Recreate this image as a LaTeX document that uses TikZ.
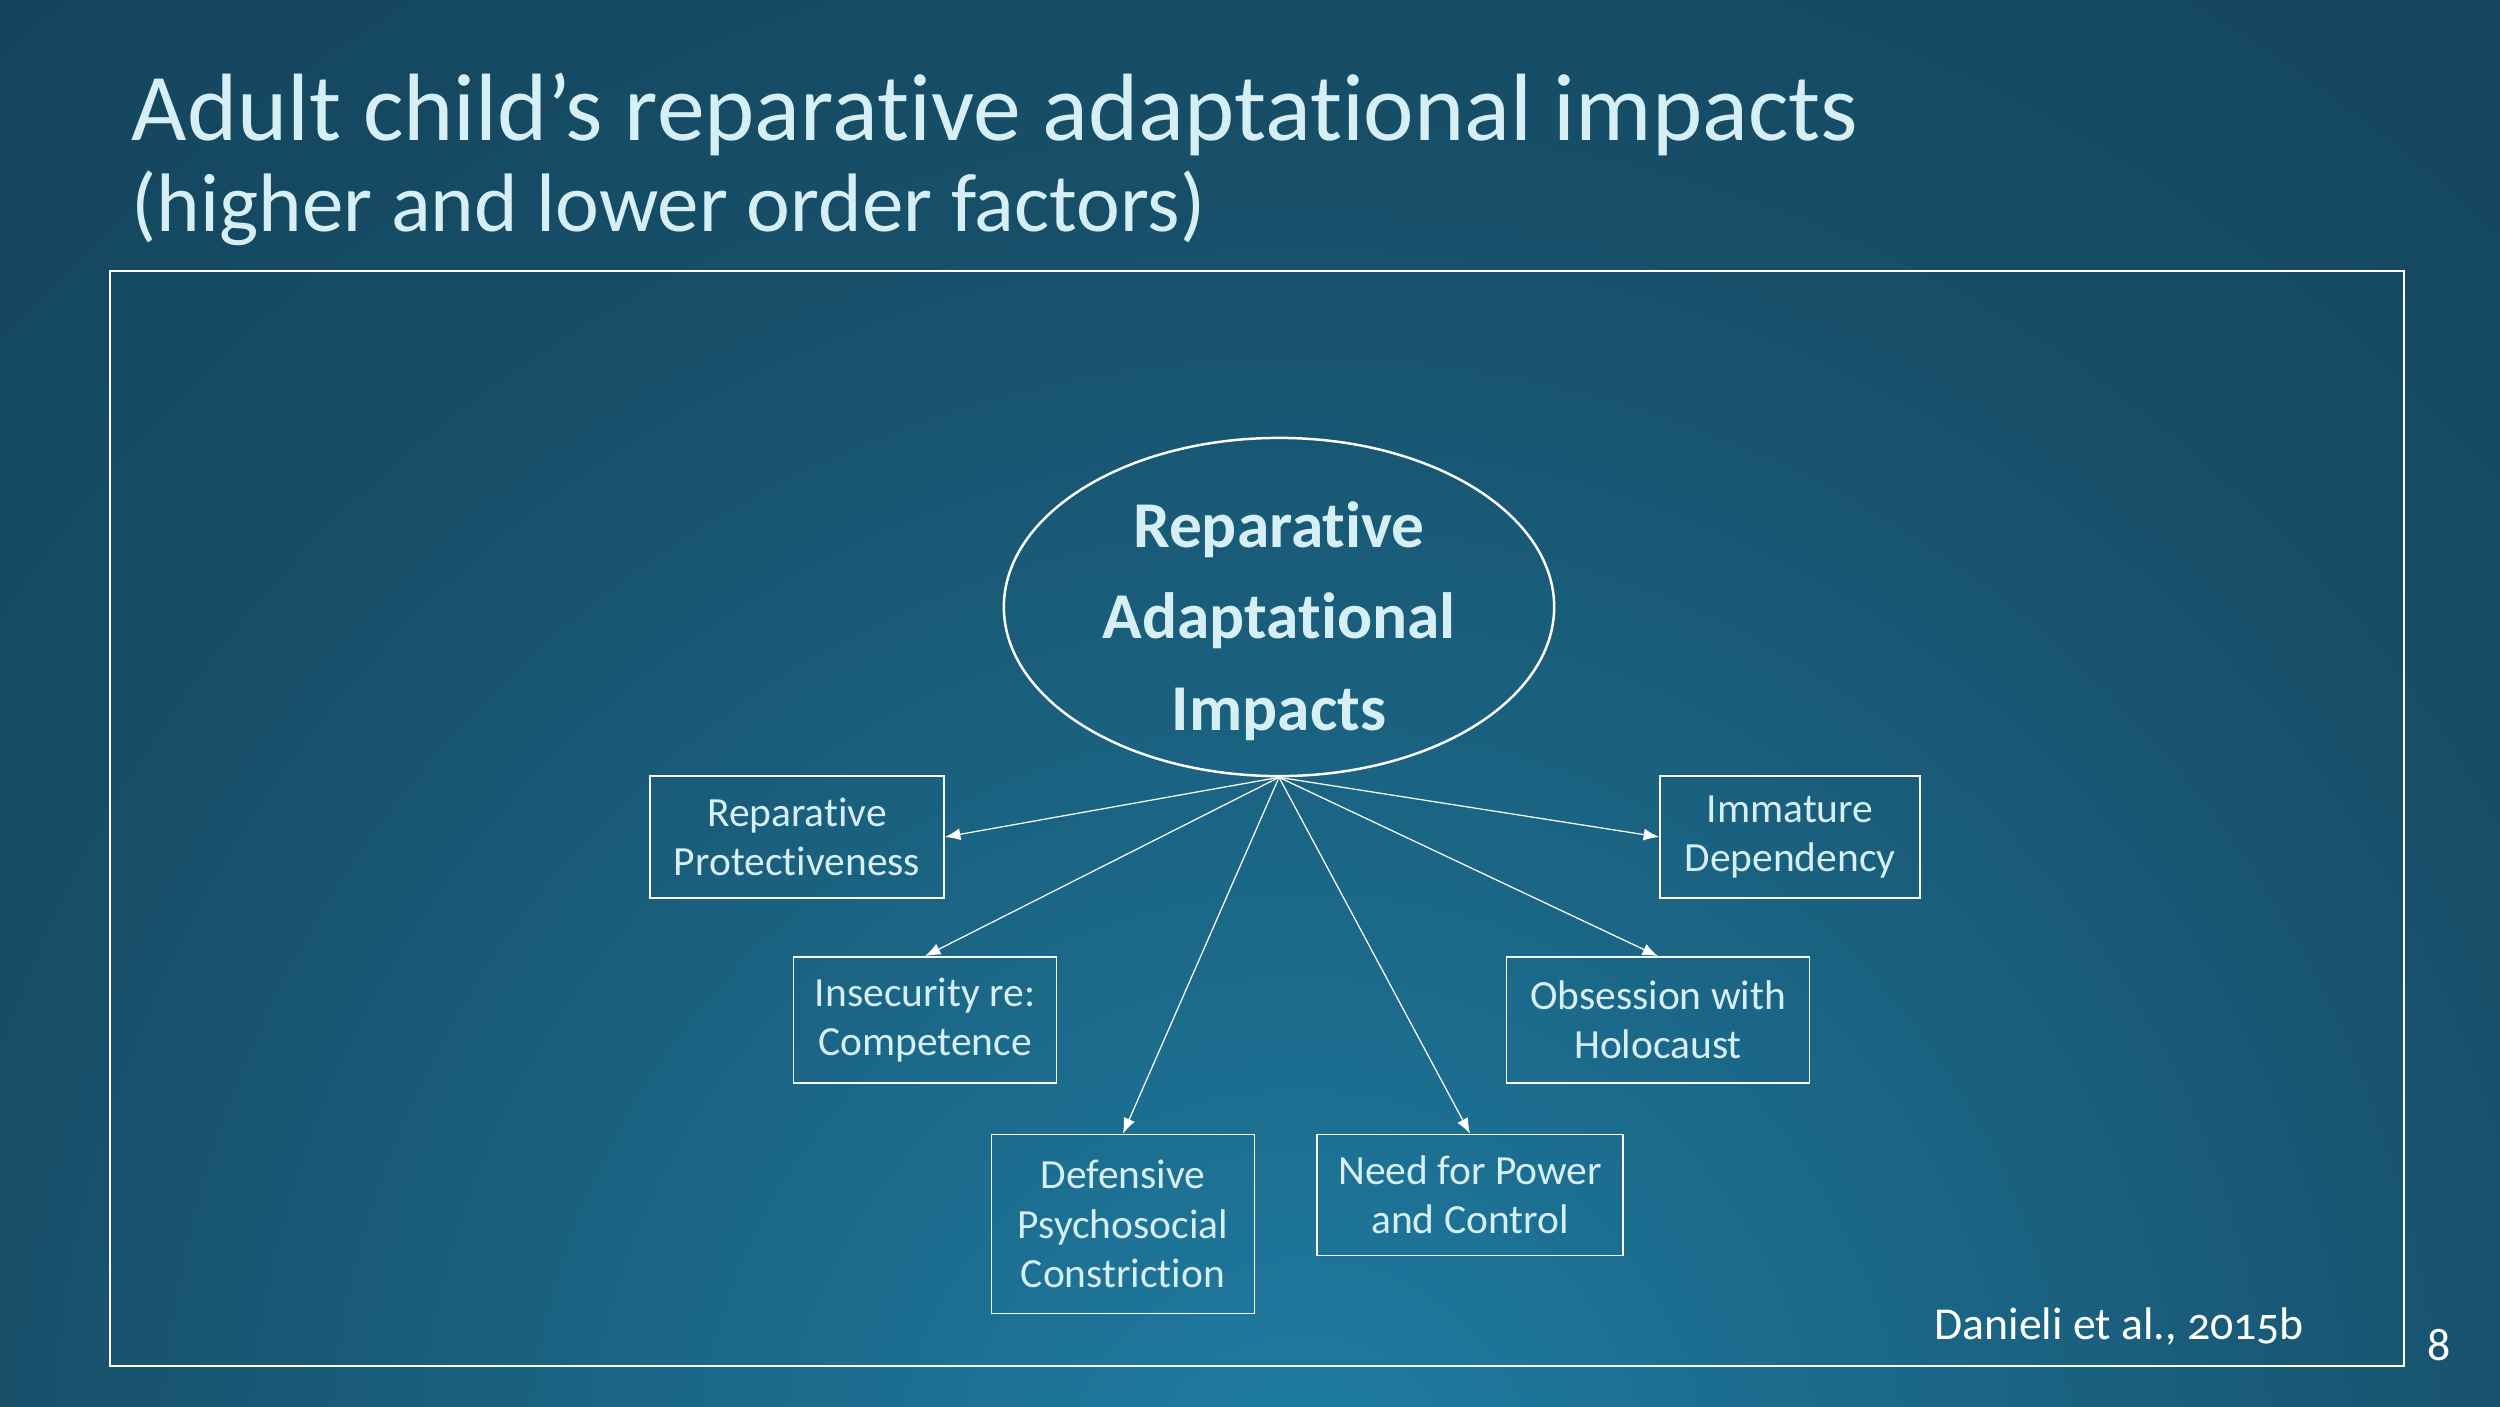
\documentclass[tikz,border=0pt]{standalone}
\usepackage{fontspec}
\setmainfont{Carlito}[Ligatures={NoCommon}]
\usepackage{tikz}
\usetikzlibrary{shapes.geometric}
\usetikzlibrary{arrows.meta}
\pgfdeclarelayer{fondo}
\pgfdeclarelayer{lineas_layer}
\pgfsetlayers{fondo,lineas_layer,main}
\definecolor{fondoclaro}{HTML}{1F7DA3}
\definecolor{fondomedio}{HTML}{174F69}
\definecolor{fondooscuro}{HTML}{0F3348}
\definecolor{textoclaro}{HTML}{D6EFF5}
\pgfdeclareradialshading{fondoshade}{\pgfpoint{0bp}{0bp}}{color(0bp)=(fondoclaro); color(18bp)=(fondomedio); color(42bp)=(fondooscuro); color(100bp)=(fondooscuro)}
\tikzstyle{none}=[inner sep=0pt]
\tikzstyle{titulo}=[inner sep=0pt,anchor=base west,text=textoclaro]
\tikzstyle{impacto}=[ellipse,draw=white,line width=0.7pt,text=textoclaro,font=\fontsize{18.6}{26}\selectfont\bfseries,align=center,minimum width=5.5cm,minimum height=3.38cm,inner sep=-20pt]
\tikzstyle{factor}=[draw=white,line width=0.45pt,text=textoclaro,font=\fontsize{11.8}{14}\selectfont,align=center,inner sep=2pt]
\tikzstyle{line} = [draw=white,line width=0.35pt,-{Latex[length=4.4pt,width=3.4pt]}]
\begin{document}
\begin{tikzpicture}[x=0.01cm,y=-0.01cm]
		\useasboundingbox (0,0) rectangle (2500,1406);
		\begin{pgfonlayer}{fondo}
			\begin{scope}
				\clip (0,0) rectangle (2500,1406);
				\shade [shading=fondoshade] (-500,-300) rectangle (3100,3300);
			\end{scope}
			\draw [white,line width=0.6pt] (110,271) rectangle (2404,1366);
		\end{pgfonlayer}
		\node [style=titulo,font=\fontsize{27.2}{27.2}\selectfont] (titulo1) at (131,140) {Adult child’s reparative adaptational impacts};
		\node [style=titulo,font=\fontsize{23.6}{23.6}\selectfont] (titulo2) at (131,231) {(higher and lower order factors)};
		\node [style=impacto] (impactos) at (1279,607) {\rule{0pt}{21pt}Reparative\\Adaptational\\Impacts};
		\node [style=factor,minimum width=2.94cm,minimum height=1.22cm] (protectiveness) at (797,837) {Reparative\\Protectiveness};
		\node [style=factor,minimum width=2.63cm,minimum height=1.26cm] (insecurity) at (925,1020) {Insecurity re:\\Competence};
		\node [style=factor,minimum width=2.63cm,minimum height=1.79cm] (constriction) at (1123,1224) {Defensive\\Psychosocial\\Constriction};
		\node [style=factor,minimum width=3.06cm,minimum height=1.21cm] (power) at (1470,1195) {Need for Power\\and Control};
		\node [style=factor,minimum width=3.03cm,minimum height=1.26cm] (obsession) at (1658,1020) {Obsession with\\Holocaust};
		\node [style=factor,minimum width=2.60cm,minimum height=1.22cm] (dependency) at (1790,837) {Immature\\Dependency};
		\node [style=none,anchor=base west,text=white,font=\fontsize{13}{13}\selectfont\addfontfeatures{Numbers=OldStyle}] (cita) at (1934,1339) {Danieli et al., 2015b};
		\node [style=none,anchor=base,text=white,font=\fontsize{13}{13}\selectfont] (pagina) at (2439,1360) {8};
		\begin{pgfonlayer}{lineas_layer}
			\path [style=line] (impactos.south) -- (protectiveness.east);
			\path [style=line] (impactos.south) -- (insecurity.north);
			\path [style=line] (impactos.south) -- (constriction.north);
			\path [style=line] (impactos.south) -- (power.north);
			\path [style=line] (impactos.south) -- (obsession.north);
			\path [style=line] (impactos.south) -- (dependency.west);
		\end{pgfonlayer}
\end{tikzpicture}
\end{document}
